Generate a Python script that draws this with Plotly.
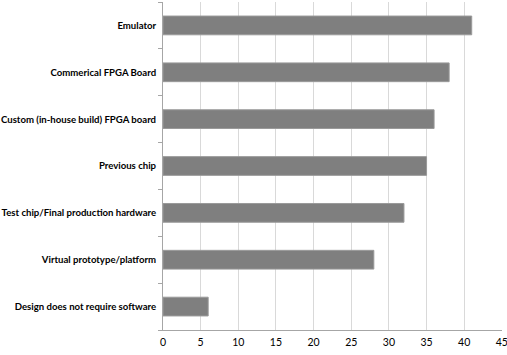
import plotly.graph_objects as go

categories = [
    "Emulator",
    "Commerical FPGA Board",
    "Custom (in-house build) FPGA board",
    "Previous chip",
    "Test chip/Final production hardware",
    "Virtual prototype/platform",
    "Design does not require software",
]
values = [41, 38, 36, 35, 32, 28, 6]
x_ticks = [0, 5, 10, 15, 20, 25, 30, 35, 40, 45]

FONT = "Lato, Liberation Sans, sans-serif"

fig = go.Figure(go.Bar(
    x=values,
    y=categories,
    orientation="h",
    width=0.4,
    marker=dict(color="#7f7f7f", line=dict(color="#9a9a9a", width=1)),
))

fig.update_layout(
    width=507, height=355,
    margin=dict(l=163, r=5, t=2, b=25),
    paper_bgcolor="white", plot_bgcolor="white",
    showlegend=False,
    font=dict(family=FONT, size=10, color="#000000"),
)
fig.update_xaxes(
    range=[0, 45.02], tickvals=x_ticks, ticktext=[str(t) for t in x_ticks],
    showgrid=True, gridcolor="#d9d9d9", gridwidth=1,
    showline=True, linecolor="#a6a6a6", linewidth=1,
    ticks="", zeroline=False, automargin=False,
    ticklabeloverflow="allow", ticklabelstandoff=2,
    tickfont=dict(size=10.5, family=FONT),
)
fig.update_yaxes(
    categoryorder="array", categoryarray=categories[::-1],
    showline=True, linecolor="#a6a6a6", linewidth=1,
    ticks="outside", tickson="boundaries", ticklen=4, tickcolor="#a6a6a6",
    showgrid=False, automargin=False, ticklabelstandoff=4,
    tickfont=dict(size=9.6, family=FONT, weight="bold"),
)

fig.write_html("out.html", config={"displayModeBar": False},
               post_script="document.body.style.margin='0px';")
